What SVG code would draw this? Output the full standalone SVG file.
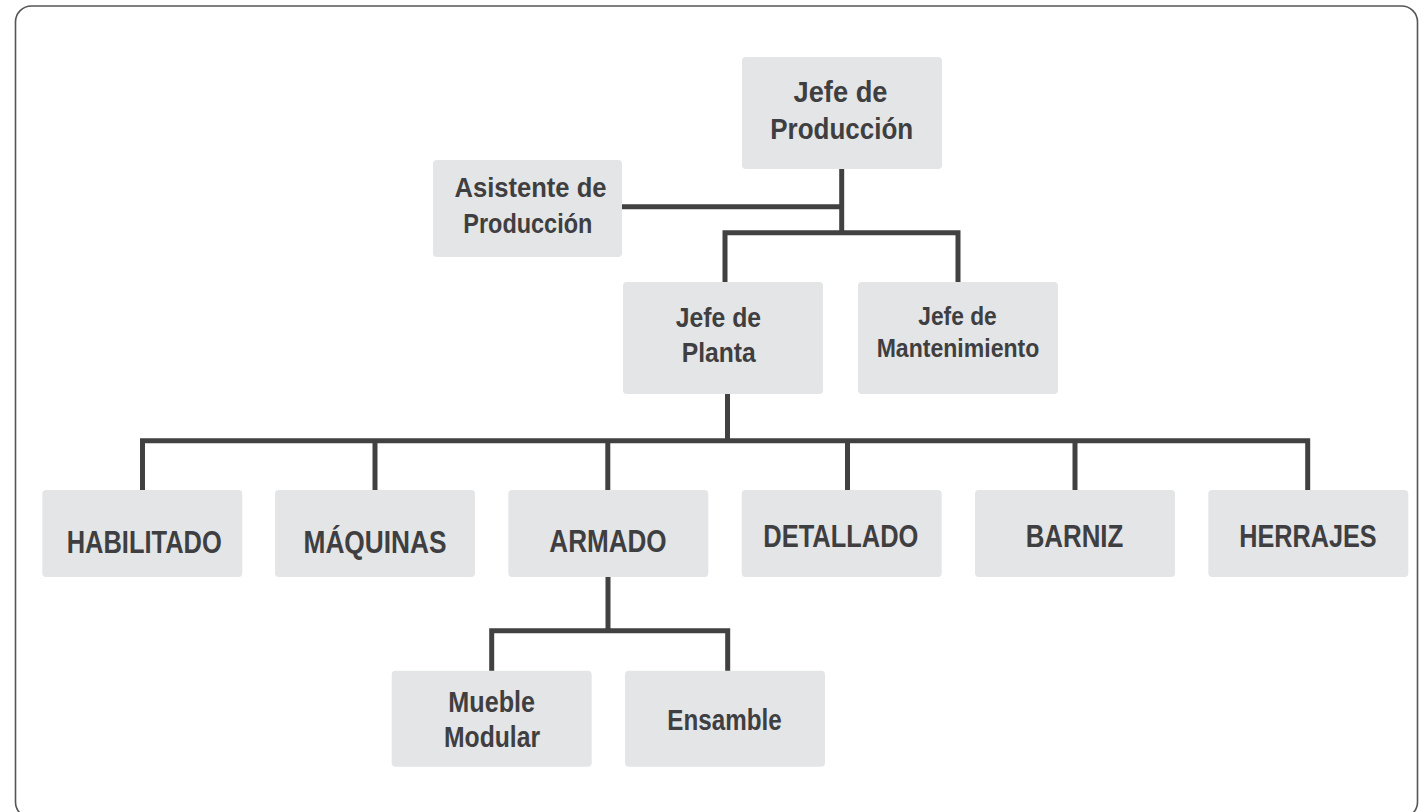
<svg xmlns="http://www.w3.org/2000/svg" width="1426" height="812" viewBox="0 0 1426 812">
<style>
.box{fill:#e4e5e7}
.t{font-family:"Liberation Sans",Arial,Helvetica,sans-serif;font-weight:bold;fill:#3f3f41;text-anchor:middle}
.c{fill:none;stroke:#414141;stroke-width:5;stroke-linejoin:miter;stroke-linecap:butt}
</style>
<rect x="15.5" y="6" width="1402" height="812" rx="16" fill="#ffffff" stroke="#555555" stroke-width="1.6"/>
<g id="connectors">
<path class="c" d="M841.7 168 V235"/>
<path class="c" d="M622 206.7 H841.7"/>
<path class="c" d="M725 283 V232.7 H958 V283"/>
<path class="c" d="M727.5 393 V440.7"/>
<path class="c" d="M142.5 491 V440.7 H1307.7 V491"/>
<path class="c" d="M375 440.7 V491"/>
<path class="c" d="M607.8 440.7 V491"/>
<path class="c" d="M847.5 440.7 V491"/>
<path class="c" d="M1075 440.7 V491"/>
<path class="c" d="M608 576 V630.8"/>
<path class="c" d="M491.7 671 V630.8 H727.7 V671"/>
</g>
<g id="jefe-produccion">
<rect class="box" x="742" y="57" width="200" height="112" rx="4"/>
<text class="t" font-size="29" x="840.5" y="101.7" textLength="94" lengthAdjust="spacingAndGlyphs">Jefe de</text>
<text class="t" font-size="29" x="841.7" y="139.3" textLength="143" lengthAdjust="spacingAndGlyphs">Producción</text>
</g>
<g id="asistente-produccion">
<rect class="box" x="433" y="160" width="189" height="97" rx="4"/>
<text class="t" font-size="28" x="530.5" y="196.7" textLength="152" lengthAdjust="spacingAndGlyphs">Asistente de</text>
<text class="t" font-size="28" x="527.8" y="233.3" textLength="129" lengthAdjust="spacingAndGlyphs">Producción</text>
</g>
<g id="jefe-planta">
<rect class="box" x="623" y="282" width="200" height="112" rx="4"/>
<text class="t" font-size="28" x="718.4" y="327.3" textLength="85.3" lengthAdjust="spacingAndGlyphs">Jefe de</text>
<text class="t" font-size="28" x="718.7" y="361.7" textLength="74" lengthAdjust="spacingAndGlyphs">Planta</text>
</g>
<g id="jefe-mantenimiento">
<rect class="box" x="858" y="282" width="200" height="112" rx="4"/>
<text class="t" font-size="26" x="957.5" y="325" textLength="78.4" lengthAdjust="spacingAndGlyphs">Jefe de</text>
<text class="t" font-size="26" x="958" y="357.3" textLength="162.7" lengthAdjust="spacingAndGlyphs">Mantenimiento</text>
</g>
<g id="habilitado">
<rect class="box" x="42.3" y="490" width="200" height="87" rx="4"/>
<text class="t" font-size="32" x="144.2" y="552.7" textLength="155" lengthAdjust="spacingAndGlyphs">HABILITADO</text>
</g>
<g id="maquinas">
<rect class="box" x="275" y="490" width="200" height="87" rx="4"/>
<text class="t" font-size="32" x="375" y="552.7" textLength="143" lengthAdjust="spacingAndGlyphs">MÁQUINAS</text>
</g>
<g id="armado">
<rect class="box" x="508.3" y="490" width="200" height="87" rx="4"/>
<text class="t" font-size="32" x="608" y="551.7" textLength="117.3" lengthAdjust="spacingAndGlyphs">ARMADO</text>
</g>
<g id="detallado">
<rect class="box" x="741.7" y="490" width="200" height="87" rx="4"/>
<text class="t" font-size="32" x="840.8" y="547.3" textLength="155" lengthAdjust="spacingAndGlyphs">DETALLADO</text>
</g>
<g id="barniz">
<rect class="box" x="975" y="490" width="200" height="87" rx="4"/>
<text class="t" font-size="32" x="1074.5" y="547.3" textLength="97.7" lengthAdjust="spacingAndGlyphs">BARNIZ</text>
</g>
<g id="herrajes">
<rect class="box" x="1208.3" y="490" width="200" height="87" rx="4"/>
<text class="t" font-size="32" x="1308" y="547.3" textLength="137.3" lengthAdjust="spacingAndGlyphs">HERRAJES</text>
</g>
<g id="mueble-modular">
<rect class="box" x="391.7" y="670.7" width="200" height="96" rx="4"/>
<text class="t" font-size="29" x="491.7" y="712.3" textLength="86.7" lengthAdjust="spacingAndGlyphs">Mueble</text>
<text class="t" font-size="29" x="492" y="746.7" textLength="96" lengthAdjust="spacingAndGlyphs">Modular</text>
</g>
<g id="ensamble">
<rect class="box" x="625" y="670.7" width="200" height="96" rx="4"/>
<text class="t" font-size="29" x="724.5" y="730" textLength="114.3" lengthAdjust="spacingAndGlyphs">Ensamble</text>
</g>
</svg>
